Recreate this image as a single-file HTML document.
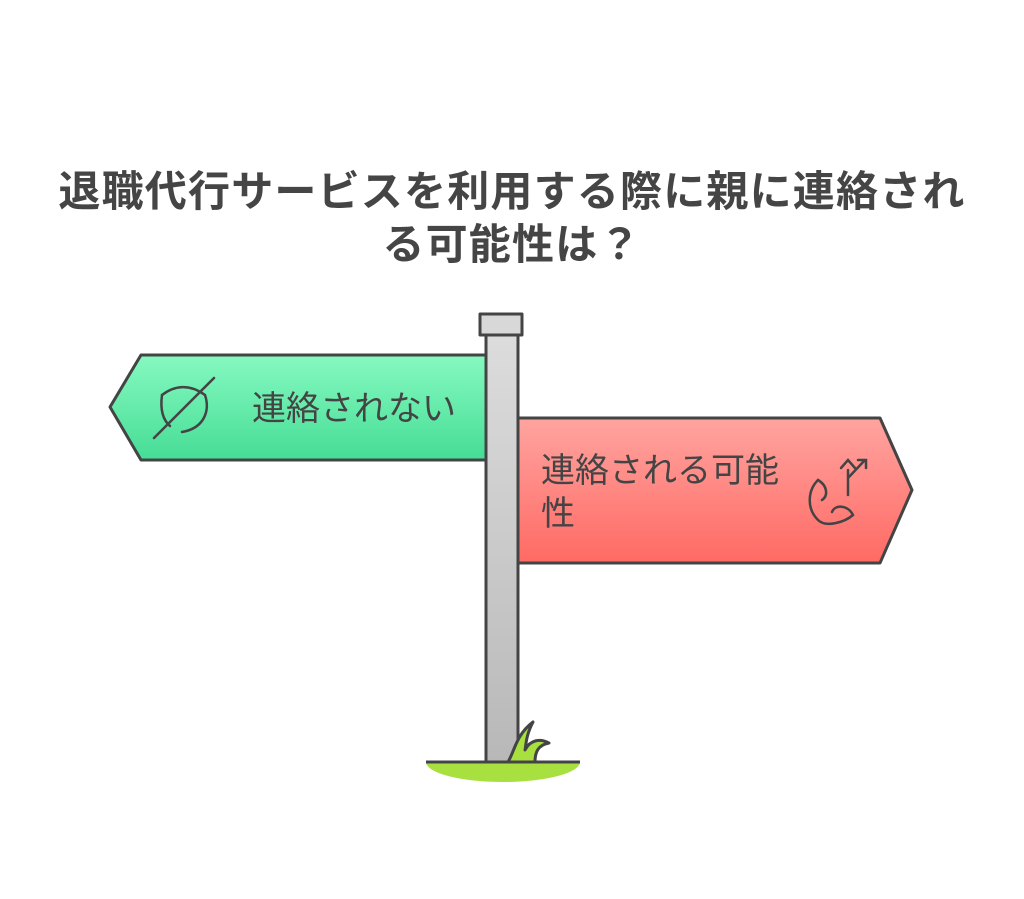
<!DOCTYPE html>
<html><head><meta charset="utf-8"><style>
body{margin:0;width:1024px;height:899px;background:#fff;overflow:hidden;font-family:"Liberation Sans","Noto Sans CJK JP",sans-serif}
.t{position:absolute;left:0;width:1024px;text-align:center;font-weight:bold;font-size:42px;letter-spacing:1.2px;color:#454545;line-height:53px;top:165px;white-space:nowrap}
</style></head><body>
<div class="t">退職代行サービスを利用する際に親に連絡され<br>る可能性は？</div>
<svg width="1024" height="899" style="position:absolute;left:0;top:0">
<defs>
<linearGradient id="g" x1="0" y1="0" x2="0" y2="1"><stop offset="0" stop-color="#86f9c0"/><stop offset="1" stop-color="#46dd96"/></linearGradient>
<linearGradient id="r" x1="0" y1="0" x2="0" y2="1"><stop offset="0" stop-color="#ffa4a0"/><stop offset="1" stop-color="#ff6a64"/></linearGradient>
<linearGradient id="p" x1="0" y1="0" x2="0" y2="1"><stop offset="0" stop-color="#dcdcdc"/><stop offset="1" stop-color="#b8b8b8"/></linearGradient>
</defs>
<g stroke="#444" stroke-width="3" stroke-linejoin="round">
<path d="M426,762 A77,20 0 0 0 580,762 Z" fill="#a8e040" stroke="none"/>
<polygon points="141,355 487,355 487,460 141,460 110,407" fill="url(#g)"/>
<rect x="486" y="335" width="32" height="427" fill="url(#p)"/>
<rect x="480" y="314" width="42" height="21" fill="#d8d8d8"/>
<polygon points="518,418 880,418 912,490 880,563 518,563" fill="url(#r)"/>
<path d="M508,762 C515,750 516,735 533,722 C526,735 526,745 525,750 C530,740 540,738 549,743 C538,745 535,752 535,762 Z" fill="#a8e040"/>
<line x1="426" y1="762" x2="580" y2="762"/>
</g>
<g fill="none" stroke="#444" stroke-width="2.5" stroke-linecap="round">
<path d="M162,395 C175,385 190,384 205,395 C210,410 205,428 182,432"/>
<path d="M162,395 C160,410 163,420 170,426"/>
<line x1="154" y1="438" x2="214" y2="378"/>
<path d="M818,480 C808,490 806,508 818,520 C826,528 845,522 853,515 C848,505 835,504 832,512"/>
<path d="M818,480 C828,486 828,496 822,500"/>
<path d="M848,495 V470 M848,478 L865,460 M841,468 L848,460 L855,468 M858,460 H866 V468"/>
</g>
<g font-size="34" fill="#444">
<text x="252" y="420">連絡されない</text>
<text x="541" y="482">連絡される可能</text>
<text x="541" y="525">性</text>
</g>
</svg>
</body></html>
